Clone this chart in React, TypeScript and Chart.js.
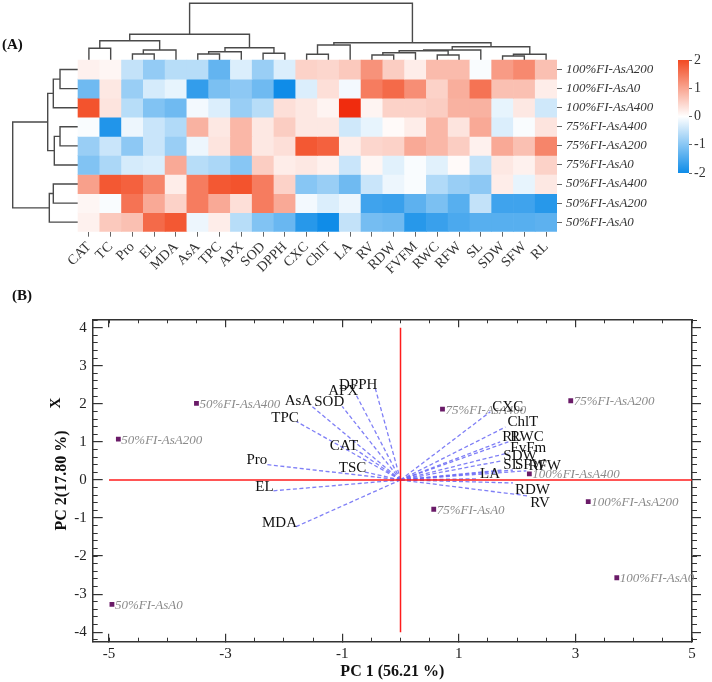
import React, { useEffect, useRef } from "react";
import { Chart, registerables } from "chart.js";
Chart.register(...registerables);

const FONT = '"Liberation Serif", "Times New Roman", serif';
Chart.defaults.font.family = FONT;
Chart.defaults.color = "#222";

// ---------- Panel A data ----------
const colNames = ["CAT", "TC", "Pro", "EL", "MDA", "AsA", "TPC", "APX", "SOD", "DPPH", "CXC", "ChlT", "LA", "RV", "RDW", "FVFM", "RWC", "RFW", "SL", "SDW", "SFW", "RL"];
const rowNames = ["100%FI-AsA200", "100%FI-AsA0", "100%FI-AsA400", "75%FI-AsA400", "75%FI-AsA200", "75%FI-AsA0", "50%FI-AsA400", "50%FI-AsA200", "50%FI-AsA0"];

const h100_200 = [0.15, 0.1, -0.5, -0.9, -0.6, -0.6, -1.3, -0.3, -0.85, -0.3, 0.5, 0.45, 0.6, 1.2, 0.55, 0.2, 0.75, 0.75, -0.05, 1.1, 1.3, 0.7];
const h100_0 = [-1.2, 0.25, -0.85, -0.35, -0.2, -1.7, -1.1, -0.95, -1.2, -2.0, -0.3, 0.35, -0.1, 1.45, 1.65, 1.25, 0.5, 0.9, 1.55, 0.7, 0.7, 0.2];
const h100_400 = [1.9, 0.3, -0.6, -1.05, -1.2, -0.1, -0.3, -0.85, -0.6, 0.35, 0.25, 0.12, 2.6, 0.12, 0.5, 0.5, 0.55, 0.85, 0.85, -0.2, 0.25, -0.4];
const h75_400 = [-0.05, -1.85, -0.15, -0.45, -0.65, 0.85, 0.25, 0.8, 0.25, 0.55, 0.25, 0.25, -0.4, -0.2, 0.05, 0.2, 0.8, 0.3, 0.95, -0.3, -0.05, 0.3];
const h75_200 = [-0.85, -0.45, -0.95, -0.45, -0.85, -0.15, 0.3, 0.8, 0.25, 0.35, 1.85, 1.75, 0.2, 0.45, 0.5, 0.95, 0.8, 0.55, 0.15, 0.95, 0.7, 1.35];
const h75_0 = [-1.05, -0.7, -0.35, -0.3, 0.95, -0.6, -0.7, -1.0, 0.55, 0.2, 0.25, 0.15, -0.45, 0.1, -0.25, -0.05, -0.25, 0.05, -0.5, 0.25, 0.15, 0.5];
const h50_400 = [1.05, 1.85, 1.75, 1.35, 0.2, 1.45, 1.85, 1.9, 1.45, 0.5, -1.0, -0.85, -1.2, -0.45, -0.15, -0.05, -0.65, -0.85, -0.95, 0.2, -0.2, 0.25];
const h50_200 = [0.1, -0.05, 1.55, 0.95, 0.5, 1.45, 0.95, 0.35, 1.45, 0.95, -0.1, -0.3, -0.15, -1.6, -1.65, -1.35, -1.1, -1.4, -0.5, -1.6, -1.6, -1.8];
const h50_0 = [0.15, 0.6, 0.7, 1.65, 1.85, -0.15, 0.2, -0.6, -1.05, -1.25, -1.8, -2.0, -0.5, -1.15, -1.2, -1.8, -1.65, -1.5, -1.4, -1.4, -1.4, -1.35];

// column clustering: [childA, childB, distance]; leaves 0..21, new clusters from 22
const colMerges = [
  [0, 1, 11.7], [2, 3, 6], [23, 4, 10], [22, 24, 19.3],
  [5, 6, 6], [26, 7, 8.3], [8, 9, 6.7], [27, 28, 12.3], [25, 29, 25.7],
  [10, 11, 5.7], [31, 12, 15], [13, 14, 5], [33, 15, 7.3], [16, 17, 5],
  [34, 35, 9.3], [36, 18, 10], [19, 20, 4], [38, 21, 5.7], [37, 39, 13.3],
  [32, 40, 17.3], [30, 41, 56.7],
];
// row clustering: leaves 0..8, new clusters from 9
const rowMerges = [
  [0, 1, 18], [9, 2, 24.7], [3, 4, 18], [11, 5, 23.7], [10, 12, 30.3],
  [6, 7, 24.7], [14, 8, 28.7], [13, 15, 65.3],
];
const colorTicks = [2, 1, 0, -1, -2];

// ---------- Panel B data ----------
const sampleNames = ["50%FI-AsA400", "50%FI-AsA200", "50%FI-AsA0", "75%FI-AsA400", "75%FI-AsA200", "75%FI-AsA0", "100%FI-AsA400", "100%FI-AsA200", "100%FI-AsA0"];
const sampleX = [-3.5, -4.84, -4.95, 0.72, 2.92, 0.57, 2.21, 3.22, 3.71];
const sampleY = [2.01, 1.07, -3.27, 1.86, 2.08, -0.77, 0.16, -0.57, -2.57];

const loadNames = ["DPPH", "APX", "SOD", "AsA", "TPC", "CAT", "Pro", "TSC", "EL", "MDA", "CXC", "ChlT", "RL", "RWC", "FvFm", "SDW", "SL", "SFW", "RFW", "LA", "RDW", "RV"];
const loadX = [-0.43, -0.76, -1.0, -1.55, -1.78, -0.76, -2.32, -0.62, -2.21, -1.81, 1.54, 1.8, 1.71, 1.85, 1.85, 1.73, 1.73, 1.93, 2.16, 1.33, 1.93, 2.19];
const loadY = [2.39, 2.23, 1.93, 1.97, 1.53, 0.79, 0.41, 0.21, -0.29, -1.24, 1.79, 1.39, 1.0, 1.0, 0.71, 0.5, 0.26, 0.26, 0.24, 0.03, -0.08, -0.42];

const pc1Ticks = [-5, -3, -1, 1, 3, 5];
const pc2Ticks = [-4, -3, -2, -1, 0, 1, 2, 3, 4];
const hLineX = [-5, 5];
const hLineY = [0, 0];
const vLineX = [0, 0];
const vLineY = [-4, 4];

// ---------- helpers ----------
const colorStops: [number, number[]][] = [
  [-2, [15, 140, 232]],
  [0, [255, 255, 255]],
  [2, [242, 74, 34]],
  [3, [238, 24, 0]],
];
function heatColor(v: number): string {
  const lo = colorStops[0][0];
  const hi = colorStops[colorStops.length - 1][0];
  const t = Math.max(lo, Math.min(hi, v));
  for (let i = 0; i < colorStops.length - 1; i++) {
    const [a, ca] = colorStops[i];
    const [b, cb] = colorStops[i + 1];
    if (t >= a && t <= b) {
      const f = (t - a) / (b - a);
      const c = ca.map((x, k) => Math.round(x + (cb[k] - x) * f));
      return `rgb(${c[0]},${c[1]},${c[2]})`;
    }
  }
  return "#fff";
}

function dendroPaths(merges: number[][], leafPos: number[]) {
  const pos = leafPos.slice();
  const ht = leafPos.map(() => 0);
  return merges.map(([a, b, d]) => {
    const path = [[pos[a], ht[a]], [pos[a], d], [pos[b], d], [pos[b], ht[b]]];
    pos.push((pos[a] + pos[b]) / 2);
    ht.push(d);
    return path;
  });
}

function seq(a: number, b: number, step: number) {
  const out: number[] = [];
  for (let v = a; v <= b + 1e-9; v += step) out.push(Math.round(v * 100) / 100);
  return out;
}

const noEdgePadding = (s: any) => {
  s.paddingTop = 0;
  s.paddingBottom = 0;
  s.paddingLeft = 0;
  s.paddingRight = 0;
};

const dendroLine = {
  type: "line" as const,
  borderColor: "#4a4a4a",
  borderWidth: 1.4,
  pointRadius: 0,
  fill: false,
  tension: 0,
  clip: false as any,
  xAxisID: "x",
  yAxisID: "y",
};

function makeHeatmap(canvas: HTMLCanvasElement) {
  const heatRows = [h100_200, h100_0, h100_400, h75_400, h75_200, h75_0, h50_400, h50_200, h50_0];
  const nRows = rowNames.length;
  // room reserved for the dendrograms, in heatmap cell units
  const topRoom = 3, leftRoom = 3;
  const topUnit = topRoom / 57.2; // rows per distance unit
  const leftUnit = leftRoom / 65.3; // columns per distance unit

  const barSets = heatRows.map((vals, r) => ({
    type: "bar" as const,
    data: vals.map((v, c) => ({ x: c + 0.5, y: [nRows - 1 - r, nRows - r] })),
    backgroundColor: vals.map(heatColor),
    borderWidth: 0,
    grouped: false,
    barPercentage: 1,
    categoryPercentage: 1,
    xAxisID: "x",
    yAxisID: "y",
  }));
  const colLeaf = colNames.map((_, i) => i + 0.5);
  const topSets = dendroPaths(colMerges, colLeaf).map((p) => ({
    ...dendroLine,
    data: p.map(([pos, d]) => ({ x: pos, y: nRows + d * topUnit })),
  }));
  const rowLeaf = rowNames.map((_, r) => nRows - 0.5 - r);
  const leftSets = dendroPaths(rowMerges, rowLeaf).map((p) => ({
    ...dendroLine,
    data: p.map(([pos, d]) => ({ x: -d * leftUnit, y: pos })),
  }));
  return new Chart(canvas, {
    type: "bar",
    data: { datasets: [...barSets, ...topSets, ...leftSets] as any },
    options: {
      animation: false,
      responsive: false,
      events: [],
      layout: { padding: { left: 12.7, top: 2.8, right: 0, bottom: 0 } },
      plugins: { legend: { display: false }, tooltip: { enabled: false } },
      scales: {
        x: {
          type: "linear",
          position: "bottom",
          min: -leftRoom,
          max: colNames.length,
          offset: false,
          afterBuildTicks: (s: any) => {
            s.ticks = colNames.map((_, i) => ({ value: i + 0.5 }));
          },
          afterFit: (s: any) => {
            s.height = 285 - 231.7;
            noEdgePadding(s);
          },
          ticks: {
            autoSkip: false,
            maxRotation: 45,
            minRotation: 45,
            padding: 2,
            color: "#333",
            font: { size: 14 },
            callback: (_v: any, i: number) => colNames[i],
          },
          grid: { offset: false, drawOnChartArea: false, tickLength: 5, color: "#666", lineWidth: 1 },
          border: { display: false },
        },
        y: {
          type: "linear",
          position: "right",
          min: 0,
          max: nRows + topRoom,
          afterBuildTicks: (s: any) => {
            s.ticks = rowNames.map((_, r) => ({ value: nRows - 0.5 - r }));
          },
          afterFit: (s: any) => {
            s.width = 712 - 557;
            noEdgePadding(s);
          },
          ticks: {
            padding: 4,
            color: "#333",
            font: { size: 13, style: "italic" },
            callback: (_v: any, i: number) => rowNames[i],
          },
          grid: { drawOnChartArea: false, tickLength: 5, color: "#666", lineWidth: 1 },
          border: { display: false },
        },
      } as any,
    },
  });
}

function makeColorbar(canvas: HTMLCanvasElement) {
  return new Chart(canvas, {
    type: "bar",
    data: {
      labels: [""],
      datasets: [
        {
          data: [[colorTicks[colorTicks.length - 1], colorTicks[0]]] as any,
          barPercentage: 1,
          categoryPercentage: 1,
          borderWidth: 0,
          backgroundColor: (c: any) => {
            const chart = c.chart;
            const ys = chart.scales.y;
            if (!chart.chartArea || !ys) return "#fff";
            const lo = colorTicks[colorTicks.length - 1];
            const hi = colorTicks[0];
            const g = chart.ctx.createLinearGradient(0, ys.getPixelForValue(lo), 0, ys.getPixelForValue(hi));
            for (let k = 0; k <= 8; k++) {
              g.addColorStop(k / 8, heatColor(lo + ((hi - lo) * k) / 8));
            }
            return g;
          },
        },
      ],
    },
    options: {
      animation: false,
      responsive: false,
      events: [],
      layout: { padding: { left: 23, top: 10, bottom: 12, right: 0 } },
      plugins: { legend: { display: false }, tooltip: { enabled: false } },
      scales: {
        x: { display: false },
        y: {
          position: "right",
          min: -2,
          max: 2,
          afterBuildTicks: (s: any) => {
            s.ticks = colorTicks.map((v) => ({ value: v }));
          },
          afterFit: (s: any) => {
            s.width = 23;
            noEdgePadding(s);
          },
          ticks: { padding: 2, color: "#333", font: { size: 14 }, callback: (v: any) => String(v) },
          grid: { drawOnChartArea: false, tickLength: 3, color: "#666" },
          border: { display: false },
        },
      } as any,
    },
  });
}

function makeBiplot(canvas: HTMLCanvasElement) {
  const xMin = -5.28, xMax = 5.0, yMin = -4.25, yMax = 4.22;
  const xMinor = seq(-5, 5, 0.5);
  const yMinor = seq(-4.2, 4.2, 0.2);
  const frame = { display: true, color: "#333", width: 1.5 };
  const tickGrid = (len: number, w: number) => ({ drawOnChartArea: false, tickLength: len, color: "#333", lineWidth: w });

  const sampleSet = {
    kind: "sample",
    label: "samples",
    order: 0,
    data: sampleX.map((x, i) => ({ x, y: sampleY[i] })),
    pointStyle: "rect",
    pointRadius: 3.4,
    backgroundColor: "#6a1b68",
    borderWidth: 0,
    showLine: false,
  };
  const refSets = [
    { order: 1, data: hLineX.map((x, i) => ({ x, y: hLineY[i] })) },
    { order: 1, data: vLineX.map((x, i) => ({ x, y: vLineY[i] })) },
  ].map((d) => ({ ...d, showLine: true, borderColor: "#ff1c1c", borderWidth: 1.5, pointRadius: 0 }));
  const loadSets = loadNames.map((n, i) => ({
    kind: "load",
    label: n,
    order: 2,
    data: [{ x: 0, y: 0 }, { x: loadX[i], y: loadY[i] }],
    showLine: true,
    borderColor: "rgba(104,104,244,0.85)",
    borderWidth: 1.3,
    borderDash: [4, 2.5],
    pointRadius: 0,
  }));

  const textPlugin = {
    id: "biplotText",
    afterDatasetsDraw(chart: any) {
      const ctx = chart.ctx;
      ctx.save();
      chart.data.datasets.forEach((ds: any, di: number) => {
        const meta = chart.getDatasetMeta(di);
        if (ds.kind === "sample") {
          ctx.font = `italic 13px ${FONT}`;
          ctx.fillStyle = "#8a8a8a";
          ctx.textAlign = "left";
          ctx.textBaseline = "middle";
          meta.data.forEach((pt: any, i: number) => ctx.fillText(sampleNames[i], pt.x + 3, pt.y + 1));
        } else if (ds.kind === "load") {
          const pt = meta.data[1];
          const v = ds.data[1];
          ctx.font = `15px ${FONT}`;
          ctx.fillStyle = "#111";
          ctx.textBaseline = "middle";
          if (v.x < 0) {
            ctx.textAlign = "right";
            ctx.fillText(ds.label, pt.x + 2, pt.y - 4);
          } else {
            ctx.textAlign = "left";
            ctx.fillText(ds.label, pt.x + 2, pt.y + (v.y < 0 ? 7 : -5));
          }
        }
      });
      ctx.translate(56, 118);
      ctx.rotate(-Math.PI / 2);
      ctx.font = `bold 15px ${FONT}`;
      ctx.fillStyle = "#111";
      ctx.textAlign = "center";
      ctx.textBaseline = "middle";
      ctx.fillText("X", 0, 0);
      ctx.restore();
    },
  };

  return new Chart(canvas, {
    type: "scatter",
    data: { datasets: [sampleSet, ...refSets, ...loadSets] as any },
    plugins: [textPlugin],
    options: {
      animation: false,
      responsive: false,
      events: [],
      layout: { padding: { left: 0, top: 34.3, right: 0, bottom: 0 } },
      plugins: { legend: { display: false }, tooltip: { enabled: false } },
      scales: {
        x: {
          type: "linear", position: "bottom", weight: 1, min: xMin, max: xMax,
          afterBuildTicks: (s: any) => { s.ticks = pc1Ticks.map((v) => ({ value: v })); },
          afterFit: (s: any) => { s.height = 397 - 356.7; noEdgePadding(s); },
          ticks: { padding: 11, color: "#222", font: { size: 15 }, callback: (v: any) => String(v) },
          grid: tickGrid(-8, 1.2),
          border: frame,
          title: { display: true, text: "PC 1 (56.21 %)", color: "#111", font: { size: 16, weight: "bold" }, padding: { top: 0, bottom: 1 } },
        },
        xm: {
          type: "linear", position: "bottom", weight: 0, min: xMin, max: xMax,
          afterBuildTicks: (s: any) => { s.ticks = xMinor.map((v) => ({ value: v })); },
          afterFit: (s: any) => { s.height = 0; noEdgePadding(s); },
          ticks: { display: false },
          grid: tickGrid(-4, 1),
          border: { display: false },
        },
        xt: {
          type: "linear", position: "top", weight: 1, min: xMin, max: xMax,
          afterBuildTicks: (s: any) => { s.ticks = pc1Ticks.map((v) => ({ value: v })); },
          afterFit: (s: any) => { s.height = 0; noEdgePadding(s); },
          ticks: { display: false },
          grid: tickGrid(-8, 1.2),
          border: frame,
        },
        xtm: {
          type: "linear", position: "top", weight: 0, min: xMin, max: xMax,
          afterBuildTicks: (s: any) => { s.ticks = xMinor.map((v) => ({ value: v })); },
          afterFit: (s: any) => { s.height = 0; noEdgePadding(s); },
          ticks: { display: false },
          grid: tickGrid(-4, 1),
          border: { display: false },
        },
        y: {
          type: "linear", position: "left", weight: 1, min: yMin, max: yMax,
          afterBuildTicks: (s: any) => { s.ticks = pc2Ticks.map((v) => ({ value: v })); },
          afterFit: (s: any) => { s.width = 92.7; noEdgePadding(s); },
          ticks: { padding: 16, color: "#222", font: { size: 15 }, callback: (v: any) => String(v) },
          grid: tickGrid(-10, 1.2),
          border: frame,
          title: { display: true, text: "PC 2(17.80 %)", color: "#111", font: { size: 16, weight: "bold" }, padding: { top: 52, bottom: 0 } },
        },
        ym: {
          type: "linear", position: "left", weight: 0, min: yMin, max: yMax,
          afterBuildTicks: (s: any) => { s.ticks = yMinor.map((v) => ({ value: v })); },
          afterFit: (s: any) => { s.width = 0; noEdgePadding(s); },
          ticks: { display: false },
          grid: tickGrid(-5, 1),
          border: { display: false },
        },
        yr: {
          type: "linear", position: "right", weight: 1, min: yMin, max: yMax,
          afterBuildTicks: (s: any) => { s.ticks = pc2Ticks.map((v) => ({ value: v })); },
          afterFit: (s: any) => { s.width = 712 - 692; noEdgePadding(s); },
          ticks: { display: false },
          grid: tickGrid(9, 1.2),
          border: frame,
        },
        yrm: {
          type: "linear", position: "right", weight: 0, min: yMin, max: yMax,
          afterBuildTicks: (s: any) => { s.ticks = yMinor.map((v) => ({ value: v })); },
          afterFit: (s: any) => { s.width = 0; noEdgePadding(s); },
          ticks: { display: false },
          grid: tickGrid(5, 1),
          border: { display: false },
        },
      } as any,
    },
  });
}

export default function App() {
  const aRef = useRef<HTMLCanvasElement>(null);
  const cbRef = useRef<HTMLCanvasElement>(null);
  const bRef = useRef<HTMLCanvasElement>(null);

  useEffect(() => {
    const charts = [
      makeHeatmap(aRef.current as HTMLCanvasElement),
      makeColorbar(cbRef.current as HTMLCanvasElement),
      makeBiplot(bRef.current as HTMLCanvasElement),
    ];
    return () => charts.forEach((c) => c.destroy());
  }, []);

  const panelLabel: React.CSSProperties = {
    position: "absolute",
    fontFamily: FONT,
    fontWeight: "bold",
    fontSize: 15,
    lineHeight: "17px",
    color: "#111",
  };

  return (
    <div style={{ position: "absolute", left: 0, top: 0, width: 712, height: 682, background: "#fff", overflow: "hidden" }}>
      <canvas ref={aRef} width={712} height={285} style={{ position: "absolute", left: 0, top: 0, width: 712, height: 285 }} />
      <canvas ref={cbRef} width={57} height={135} style={{ position: "absolute", left: 655, top: 50, width: 57, height: 135 }} />
      <canvas ref={bRef} width={712} height={397} style={{ position: "absolute", left: 0, top: 285, width: 712, height: 397 }} />
      <div style={{ ...panelLabel, left: 2, top: 36 }}>(A)</div>
      <div style={{ ...panelLabel, left: 12, top: 287 }}>(B)</div>
    </div>
  );
}
